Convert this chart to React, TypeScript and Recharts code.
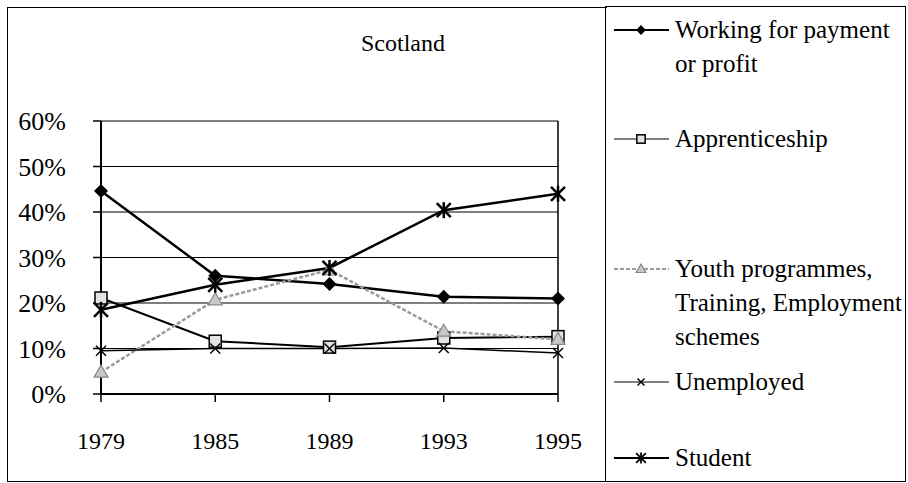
import React from "react";
import {
  LineChart,
  Line,
  XAxis,
  YAxis,
  CartesianGrid,
  ReferenceLine,
} from "recharts";

const YEARS = ["1979", "1985", "1989", "1993", "1995"];
const WORKING = [44.6, 26, 24.2, 21.4, 21];
const APPRENTICESHIP = [21.1, 11.6, 10.3, 12.3, 12.6];
const YOUTH = [4.8, 20.7, 27.3, 13.8, 12];
const UNEMPLOYED = [9.5, 10, 10, 10.1, 9];
const STUDENT = [18.5, 24, 27.7, 40.4, 44];
const Y_TICKS = [0, 10, 20, 30, 40, 50, 60];

const SERIES_NAMES = [
  "Working for payment\nor profit",
  "Apprenticeship",
  "Youth programmes,\nTraining, Employment\nschemes",
  "Unemployed",
  "Student",
];

const chartData = YEARS.map((year, i) => ({
  year,
  working: WORKING[i],
  apprenticeship: APPRENTICESHIP[i],
  youth: YOUTH[i],
  unemployed: UNEMPLOYED[i],
  student: STUDENT[i],
}));

const FONT = "Liberation Serif";

type MarkerKind = "diamond" | "square" | "triangle" | "cross" | "star";

function Marker({ kind, cx, cy, s = 1 }: { kind: MarkerKind; cx: number; cy: number; s?: number }) {
  switch (kind) {
    case "diamond":
      return (
        <polygon
          points={`${cx},${cy - 7 * s} ${cx + 7 * s},${cy} ${cx},${cy + 7 * s} ${cx - 7 * s},${cy}`}
          fill="#000"
        />
      );
    case "square":
      return (
        <rect
          x={cx - 6 * s}
          y={cy - 6 * s}
          width={12 * s}
          height={12 * s}
          fill="#e2e2e2"
          stroke="#000"
          strokeWidth={1.5}
        />
      );
    case "triangle":
      return (
        <polygon
          points={`${cx},${cy - 7 * s} ${cx + 7 * s},${cy + 5 * s} ${cx - 7 * s},${cy + 5 * s}`}
          fill="#c8c8c8"
          stroke="#888"
          strokeWidth={1.2}
        />
      );
    case "cross":
      return (
        <g stroke="#000" strokeWidth={1.5}>
          <line x1={cx - 5 * s} y1={cy - 5 * s} x2={cx + 5 * s} y2={cy + 5 * s} />
          <line x1={cx - 5 * s} y1={cy + 5 * s} x2={cx + 5 * s} y2={cy - 5 * s} />
        </g>
      );
    case "star":
      return (
        <g stroke="#000" strokeWidth={2.5 * s}>
          <line x1={cx - 7 * s} y1={cy - 7 * s} x2={cx + 7 * s} y2={cy + 7 * s} />
          <line x1={cx - 7 * s} y1={cy + 7 * s} x2={cx + 7 * s} y2={cy - 7 * s} />
          <line x1={cx} y1={cy - 8 * s} x2={cx} y2={cy + 8 * s} />
        </g>
      );
  }
}

const dotOf = (kind: MarkerKind) => (props: any) => (
  <g key={`${kind}-${props.index}`}>
    <Marker kind={kind} cx={props.cx} cy={props.cy} />
  </g>
);

const SERIES = [
  { key: "working", kind: "diamond" as MarkerKind, stroke: "#000", width: 2.5, dash: undefined },
  { key: "apprenticeship", kind: "square" as MarkerKind, stroke: "#000", width: 2, dash: undefined },
  { key: "youth", kind: "triangle" as MarkerKind, stroke: "#9a9a9a", width: 2.5, dash: "4 2" },
  { key: "unemployed", kind: "cross" as MarkerKind, stroke: "#000", width: 1.5, dash: undefined },
  { key: "student", kind: "star" as MarkerKind, stroke: "#000", width: 2.5, dash: undefined },
];

const LEGEND_CENTERS = [29, 138, 268, 381, 457];

function LegendBox() {
  return (
    <div
      style={{
        position: "absolute",
        left: 605,
        top: 6,
        width: 301,
        height: 476,
        border: "1.5px solid #000",
        boxSizing: "border-box",
      }}
    >
      {SERIES.map((s, i) => (
        <div key={s.key} style={{ position: "absolute", left: 6, top: LEGEND_CENTERS[i] - 6 - 17 }}>
          <svg width={58} height={34} style={{ position: "absolute", left: 0, top: 0 }}>
            <line
              x1={2}
              y1={17}
              x2={57}
              y2={17}
              stroke={s.stroke}
              strokeWidth={s.width > 2 ? 2 : 1.2}
              strokeDasharray={s.dash}
            />
            <Marker kind={s.kind} cx={29} cy={17} s={0.7} />
          </svg>
          <div
            style={{
              position: "absolute",
              left: 63,
              top: 0,
              width: 240,
              fontSize: 25,
              lineHeight: "34px",
              whiteSpace: "pre",
              color: "#000",
            }}
          >
            {SERIES_NAMES[i]}
          </div>
        </div>
      ))}
    </div>
  );
}

export default function App() {
  return (
    <div
      style={{
        position: "absolute",
        left: 0,
        top: 0,
        width: 908,
        height: 483,
        background: "#fff",
        fontFamily: FONT,
        overflow: "hidden",
      }}
    >
      <div
        style={{
          position: "absolute",
          left: 7,
          top: 7,
          width: 600,
          height: 475,
          borderLeft: "1.5px solid #000",
          borderTop: "1.5px solid #000",
          borderBottom: "1.5px solid #000",
          boxSizing: "border-box",
        }}
      />
      <div
        style={{
          position: "absolute",
          left: 0,
          width: 806,
          top: 28,
          textAlign: "center",
          fontSize: 24,
          lineHeight: "30px",
        }}
      >
        Scotland
      </div>
      <div style={{ position: "absolute", left: 0, top: 0 }}>
        <LineChart
          width={908}
          height={483}
          data={chartData}
          margin={{ top: 121, right: 350, bottom: 0, left: 0 }}
        >
          <CartesianGrid vertical={false} stroke="#000" strokeWidth={1.2} />
          <XAxis
            dataKey="year"
            height={89}
            tickSize={8}
            tickMargin={30}
            axisLine={{ stroke: "#000", strokeWidth: 2 }}
            tickLine={{ stroke: "#000", strokeWidth: 1.5 }}
            tick={{ fill: "#000", fontSize: 24, fontFamily: FONT }}
            interval={0}
          />
          <YAxis
            width={101}
            domain={[0, 60]}
            ticks={Y_TICKS}
            tickFormatter={(v) => `${v}%`}
            tickSize={8}
            tickMargin={27}
            axisLine={{ stroke: "#000", strokeWidth: 2 }}
            tickLine={{ stroke: "#000", strokeWidth: 1.5 }}
            tick={{ fill: "#000", fontSize: 26, fontFamily: FONT }}
            interval={0}
          />
          <ReferenceLine x="1995" stroke="#000" strokeWidth={1.5} />
          {SERIES.map((s) => (
            <Line
              key={s.key}
              dataKey={s.key}
              stroke={s.stroke}
              strokeWidth={s.width}
              strokeDasharray={s.dash}
              dot={dotOf(s.kind)}
              activeDot={false}
              isAnimationActive={false}
            />
          ))}
        </LineChart>
      </div>
      <LegendBox />
    </div>
  );
}
